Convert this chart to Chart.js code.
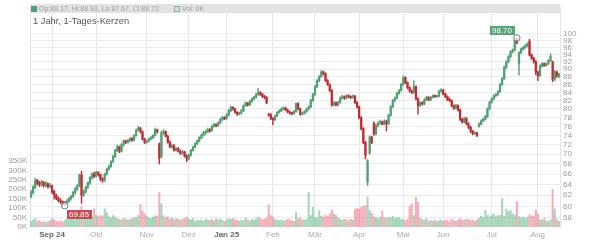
<!DOCTYPE html>
<html>
<head>
<meta charset="utf-8">
<script src="https://cdn.jsdelivr.net/npm/chart.js@4.4.1/dist/chart.umd.min.js"></script>
<style>
  html, body { margin: 0; padding: 0; background: #fff; }
</style>
</head>
<body>
<canvas id="c" width="600" height="240"></canvas>
<script>
// Tageskerzen, 1 Jahr
const opens = [
  61.8,62.5,63.4,64.8,64.3,63.9,64.4,63.8,64.1,63.6,
  63.8,62.7,62.0,61.5,61.0,60.9,60.5,60.7,60.9,61.4,
  61.8,62.5,63.1,63.8,65.8,62.1,62.6,63.5,64.3,65.2,
  66.0,65.6,66.3,65.9,65.0,64.8,66.0,67.0,67.5,68.5,
  69.5,70.8,71.5,70.6,72.0,72.8,72.5,72.9,73.3,73.0,
  74.0,75.2,75.6,74.8,73.2,72.5,72.8,73.2,73.5,74.0,
  75.2,72.0,69.5,74.6,74.8,73.8,72.5,71.5,71.8,70.8,
  71.2,70.6,70.2,70.5,69.6,69.0,69.8,70.8,71.5,72.2,
  72.8,73.5,74.0,74.6,74.8,75.3,75.0,76.0,76.4,76.2,
  76.8,77.5,78.0,77.8,78.6,79.6,80.4,80.0,79.2,78.8,
  79.0,79.6,80.8,81.4,81.0,81.8,82.4,82.8,83.5,84.0,
  83.6,83.0,82.8,78.8,78.6,77.8,77.5,78.4,79.2,79.6,
  80.0,80.2,79.8,79.3,79.0,78.9,79.4,81.3,80.0,78.8,
  79.0,79.4,80.0,80.5,82.0,83.5,85.5,87.0,88.0,89.3,
  88.8,87.0,86.0,84.5,81.0,81.5,81.0,81.6,82.6,83.0,
  82.6,83.2,83.0,82.8,83.1,81.6,80.5,78.0,75.5,72.5,
  64.5,70.2,73.6,76.7,74.3,76.2,76.8,77.0,76.5,77.2,
  76.6,78.5,80.5,82.0,82.6,83.8,84.5,86.0,87.8,86.5,
  85.2,84.4,84.0,85.5,82.5,80.8,81.5,81.2,82.2,82.8,
  82.2,82.8,83.2,83.0,83.1,84.3,84.6,83.6,83.0,82.2,
  82.0,80.8,80.2,80.8,79.8,77.6,77.0,77.8,76.6,75.8,
  74.9,74.4,74.5,76.0,76.5,77.2,77.6,78.2,80.0,81.6,
  82.4,83.2,83.5,84.2,86.0,87.5,90.5,92.0,93.4,94.8,
  95.2,98.0,91.5,94.5,95.5,96.0,96.4,97.8,93.9,92.9,
  92.0,89.2,88.3,90.8,91.5,91.0,91.4,92.3,92.0,87.4,
  89.2,88.17
];
const highs = [
  62.9,63.8,65.2,65.0,64.6,64.8,64.6,64.5,64.3,64.2,
  63.9,62.9,62.2,61.7,61.4,61.0,60.9,61.2,61.6,62.0,
  62.7,63.4,64.0,66.0,66.6,63.0,63.7,64.5,65.5,66.3,
  66.4,66.6,66.5,66.0,65.3,66.2,67.2,67.8,68.7,69.8,
  71.0,71.9,71.7,72.2,73.0,73.0,73.1,73.5,73.5,74.2,
  75.4,76.0,75.8,75.0,73.4,73.0,73.4,73.8,74.2,75.6,
  75.4,72.4,75.0,75.3,75.0,74.0,72.8,72.1,72.0,71.4,
  71.4,70.9,70.8,70.6,69.9,70.0,71.0,71.7,72.4,73.0,
  73.7,74.3,74.9,75.1,75.6,75.5,76.3,76.7,76.6,77.1,
  77.8,78.3,78.2,78.9,79.9,80.7,80.6,80.2,79.4,79.3,
  79.9,81.0,81.7,81.6,82.1,82.7,83.1,83.8,85.0,84.2,
  83.8,83.3,83.0,79.0,78.9,78.0,78.6,79.4,79.8,80.3,
  80.5,80.4,80.0,79.5,79.3,79.7,81.5,81.5,80.2,79.3,
  79.6,80.2,80.8,82.3,83.8,85.8,87.3,88.3,89.6,89.5,
  89.0,87.3,86.2,84.7,81.8,81.7,81.9,82.9,83.3,83.2,
  83.5,83.4,83.2,83.4,83.3,81.8,80.7,78.2,75.7,72.7,
  68.9,73.9,73.8,77.0,76.5,77.0,77.4,77.2,77.5,77.4,
  78.8,80.8,82.3,82.9,84.1,84.8,86.3,88.2,88.0,86.7,
  85.4,84.6,87.0,85.7,82.7,81.8,81.7,82.5,83.1,83.0,
  83.0,83.4,83.4,83.3,84.6,85.0,84.8,83.8,83.2,82.6,
  82.2,81.0,81.1,81.0,80.0,77.8,78.1,78.0,76.8,76.0,
  75.1,74.8,74.7,76.8,77.5,77.9,78.5,80.3,81.9,82.7,
  83.5,83.8,84.5,86.3,87.8,90.8,92.3,93.7,95.1,95.6,
  98.2,98.7,94.8,95.8,96.3,96.8,97.3,98.3,94.1,93.2,
  92.3,89.5,91.2,91.8,91.7,91.7,92.6,94.2,92.2,89.6,
  89.5,88.93
];
const lows = [
  61.5,62.2,63.2,63.9,63.6,63.7,63.5,63.6,63.3,63.4,
  62.3,61.3,61.2,60.8,60.5,60.2,60.1,60.4,60.7,61.1,
  61.6,62.2,62.9,63.6,60.5,61.8,62.4,63.2,64.0,65.0,
  65.3,65.4,65.6,64.7,64.4,64.6,65.8,66.7,67.3,68.3,
  69.3,70.5,70.3,70.4,71.7,72.2,72.3,72.6,72.7,72.8,
  73.8,75.0,74.5,73.0,72.2,72.3,72.6,73.0,73.3,73.8,
  74.5,68.0,69.3,74.2,73.6,72.3,71.3,71.2,70.6,70.6,
  70.4,69.9,70.0,69.4,68.4,68.8,69.6,70.6,71.3,72.0,
  72.6,73.3,73.8,74.2,74.6,74.7,74.9,75.8,75.9,76.0,
  76.6,77.3,77.5,77.6,78.4,79.4,79.7,79.0,78.5,78.6,
  78.8,79.4,80.6,80.7,80.8,81.6,82.2,82.6,83.3,83.3,
  82.8,82.5,81.2,78.3,77.5,76.3,77.3,78.2,79.0,79.4,
  79.8,79.6,79.1,78.8,78.6,78.7,79.2,79.8,78.5,78.6,
  78.8,79.2,79.8,80.3,81.8,83.3,85.2,86.7,87.8,88.5,
  86.8,85.8,84.2,80.6,80.8,80.7,80.8,81.4,82.4,82.3,
  82.4,82.7,82.5,82.6,81.3,80.2,77.7,75.2,72.2,69.0,
  63.8,70.0,72.2,74.0,74.1,75.9,76.5,76.3,76.3,75.0,
  76.4,78.3,80.3,81.8,82.4,83.6,84.3,85.8,86.2,84.9,
  84.1,83.7,83.8,82.2,78.8,80.6,80.9,81.0,82.0,82.0,
  82.0,82.6,82.8,82.8,82.9,84.1,83.4,82.7,82.0,81.8,
  80.5,79.9,80.0,79.5,77.3,76.7,76.8,76.3,75.5,74.6,
  74.1,74.2,73.7,75.8,76.3,77.0,77.4,78.0,79.8,81.4,
  82.2,82.9,83.3,84.0,85.8,87.3,90.2,91.7,93.1,94.4,
  95.0,97.0,88.4,94.2,95.2,95.7,96.1,93.6,92.6,91.6,
  88.5,87.0,88.1,90.5,90.7,90.8,91.2,92.0,86.7,87.0,
  87.8,87.67
];
const closes = [
  62.5,63.5,64.8,64.2,64.0,64.5,63.8,64.2,63.6,63.8,
  62.6,62.0,61.5,61.0,60.8,60.4,60.7,60.9,61.4,61.8,
  62.5,63.2,63.8,65.8,62.0,62.6,63.5,64.3,65.3,66.0,
  65.6,66.3,65.9,65.0,64.8,66.0,67.0,67.5,68.5,69.5,
  70.8,71.5,70.6,72.0,72.8,72.5,72.9,73.3,73.0,74.0,
  75.2,75.6,74.8,73.2,72.5,72.8,73.2,73.5,74.0,75.2,
  74.8,69.2,74.6,74.8,73.8,72.5,71.5,71.8,70.8,71.2,
  70.6,70.2,70.5,69.6,69.0,69.8,70.8,71.5,72.2,72.8,
  73.5,74.0,74.6,74.8,75.3,75.0,76.0,76.4,76.2,76.8,
  77.5,78.0,77.8,78.6,79.6,80.4,80.0,79.2,78.8,79.0,
  79.6,80.8,81.4,81.0,81.8,82.4,82.8,83.5,84.0,83.6,
  83.0,82.8,81.5,78.6,77.8,77.5,78.4,79.2,79.6,80.0,
  80.2,79.8,79.3,79.0,78.9,79.4,81.3,80.0,78.8,79.0,
  79.4,80.0,80.5,82.0,83.5,85.5,87.0,88.0,89.2,88.8,
  87.0,86.0,84.5,81.0,81.5,81.0,81.6,82.6,83.0,82.6,
  83.2,83.0,82.8,83.1,81.6,80.5,78.0,75.5,72.5,69.8,
  68.6,73.6,72.5,74.3,76.2,76.8,77.0,76.5,77.2,76.6,
  78.5,80.5,82.0,82.6,83.8,84.5,86.0,87.8,86.5,85.2,
  84.4,84.0,85.5,82.5,80.8,81.5,81.2,82.2,82.8,82.2,
  82.8,83.2,83.0,83.1,84.3,84.6,83.6,83.0,82.2,82.0,
  80.8,80.2,80.8,79.8,77.6,77.0,77.8,76.6,75.8,74.9,
  74.4,74.5,74.0,76.5,77.2,77.6,78.2,80.0,81.6,82.4,
  83.2,83.5,84.2,86.0,87.5,90.5,92.0,93.4,94.8,95.2,
  98.0,97.3,94.5,95.5,96.0,96.4,97.0,93.9,92.9,92.0,
  89.2,88.3,90.8,91.5,91.0,91.4,92.3,93.4,87.4,89.2,
  88.2,88.72
];
// Volumen in Tausend
const volumes = [
  30,36,44,30,34,26,30,24,28,34,
  44,38,30,28,32,26,34,40,38,52,
  40,38,45,52,107,50,55,46,60,58,
  96,62,55,60,58,96,78,55,48,60,
  52,45,40,38,46,42,36,40,44,48,
  50,60,118,85,70,56,48,45,52,60,
  58,184,123,60,48,55,42,50,38,44,
  40,36,42,45,52,40,38,44,30,36,
  34,38,30,42,36,34,40,32,45,38,
  42,36,30,38,44,40,46,35,38,30,
  36,34,48,38,32,40,36,44,52,46,
  38,42,48,118,60,52,40,36,34,38,
  32,36,40,38,34,30,76,45,48,38,
  36,40,184,60,104,50,48,87,58,52,
  62,55,68,90,70,62,48,40,35,42,
  38,34,40,36,92,98,95,105,110,115,
  160,88,72,55,48,44,52,85,50,46,
  52,48,55,44,50,48,40,38,34,42,
  110,123,60,157,130,48,40,36,44,30,
  34,30,36,28,32,38,30,36,34,28,
  40,34,30,36,44,38,36,42,40,34,
  36,30,38,46,56,50,90,62,54,60,
  68,55,60,62,150,58,95,82,88,70,
  62,135,55,48,52,46,50,64,58,56,
  90,70,40,36,44,32,30,38,200,96,
  40,30
];

const monthIdx = [10, 31, 55, 75, 93, 115, 135, 156, 177, 196, 219, 241];
const monthLabels = ['Sep 24', 'Okt', 'Nov', 'Dez', 'Jan 25', 'Feb', 'Mär', 'Apr', 'Mai', 'Jun', 'Jul', 'Aug'];
const yearLabels = ['Sep 24', 'Jan 25'];
const priceTicks = [58,60,62,64,66,68,70,72,74,76,78,80,82,84,86,88,90,92,94,96,98,100];
const volTicks = [0, 50, 100, 150, 200, 250, 300, 350];

const TITLE = '1 Jahr, 1-Tages-Kerzen';
const VOL_TEXT = 'Vol: 0K';
const LOW_TEXT = '69.85';
const HIGH_TEXT = '98.70';

const UP = '#529f75';
const DOWN = '#c02a31';
const UP_VOL = 'rgba(110,185,140,0.6)';
const DOWN_VOL = 'rgba(235,120,140,0.6)';
const FONT = '"Liberation Sans", Arial, sans-serif';

const N = closes.length;
const labels = closes.map((_, i) => i);
const isUp = (i) => closes[i] >= opens[i];
const last = N - 1;
const headerText = `Op:${opens[last].toFixed(2)}, Hi:${highs[last].toFixed(2)}, Lo:${lows[last].toFixed(2)}, Cl:${closes[last].toFixed(2)}`;

function labelBox(ctx, text, x, y, fill) {
  ctx.font = `8px ${FONT}`;
  const w = Math.ceil(ctx.measureText(text).width) + 4;
  ctx.fillStyle = fill;
  ctx.fillRect(x, y, w, 9);
  ctx.fillStyle = '#fff';
  ctx.textBaseline = 'middle';
  ctx.fillText(text, x + 2, y + 5);
  return w;
}

function marker(ctx, x, y) {
  ctx.beginPath();
  ctx.arc(x, y, 3.2, 0, Math.PI * 2);
  ctx.fillStyle = 'rgba(255,255,255,0.6)';
  ctx.fill();
  ctx.lineWidth = 1;
  ctx.strokeStyle = '#777';
  ctx.stroke();
}

const overlay = {
  id: 'overlay',
  beforeDraw(chart) {
    const { ctx, chartArea: a } = chart;
    ctx.save();
    ctx.fillStyle = '#e3e3e3';
    ctx.fillRect(a.left, 4, a.right - a.left, 9);
    ctx.restore();
  },
  afterDraw(chart) {
    const { ctx, scales } = chart;
    ctx.save();
    // Kopfzeile
    ctx.fillStyle = UP;
    ctx.fillRect(31, 6, 6, 6);
    ctx.font = `7px ${FONT}`;
    ctx.textBaseline = 'middle';
    ctx.fillStyle = '#a0a0a0';
    ctx.fillText(headerText, 39, 9);
    ctx.fillStyle = '#cfe3d6';
    ctx.fillRect(174, 6, 6, 6);
    ctx.strokeStyle = '#8bb39b';
    ctx.strokeRect(174.5, 6.5, 5, 5);
    ctx.fillStyle = '#a0a0a0';
    ctx.fillText(VOL_TEXT, 182, 9);
    // Titel
    ctx.font = `9.3px ${FONT}`;
    ctx.fillStyle = '#555';
    ctx.textBaseline = 'alphabetic';
    ctx.fillText(TITLE, 33, 24);

    // Hoch / Tief markieren
    let hi = 0, lo = 0;
    highs.forEach((v, i) => { if (v > highs[hi]) hi = i; });
    lows.forEach((v, i) => { if (v < lows[lo]) lo = i; });
    const hx = scales.x.getPixelForValue(hi), hy = scales.y.getPixelForValue(highs[hi]);
    const lx = scales.x.getPixelForValue(lo), ly = scales.y.getPixelForValue(lows[lo]);
    marker(ctx, hx, hy);
    marker(ctx, lx, ly);
    ctx.font = `8px ${FONT}`;
    const hw = Math.ceil(ctx.measureText(HIGH_TEXT).width) + 4;
    labelBox(ctx, HIGH_TEXT, Math.round(hx - 2 - hw), Math.round(hy - 12), '#55a47a');
    labelBox(ctx, LOW_TEXT, Math.round(lx + 2), Math.round(ly + 4), '#cc4a55');
    ctx.restore();
  }
};

new Chart(document.getElementById('c'), {
  type: 'bar',
  data: {
    labels,
    datasets: [
      {
        label: 'Körper',
        data: opens.map((o, i) => [o, closes[i]]),
        yAxisID: 'y',
        grouped: false,
        order: 1,
        barThickness: 1.6,
        minBarLength: 1,
        backgroundColor: (c) => (isUp(c.dataIndex) ? UP : DOWN),
        borderWidth: 0
      },
      {
        label: 'Docht',
        data: lows.map((l, i) => [l, highs[i]]),
        yAxisID: 'y',
        grouped: false,
        order: 2,
        barThickness: 0.8,
        backgroundColor: (c) => (isUp(c.dataIndex) ? UP : DOWN),
        borderWidth: 0
      },
      {
        label: 'Volumen',
        data: volumes,
        yAxisID: 'yv',
        grouped: false,
        order: 3,
        barThickness: 1.4,
        backgroundColor: (c) => (isUp(c.dataIndex) ? UP_VOL : DOWN_VOL),
        borderWidth: 0
      }
    ]
  },
  plugins: [overlay],
  options: {
    responsive: false,
    animation: false,
    layout: { padding: { top: 5, left: 0, right: 0, bottom: 0 } },
    plugins: {
      legend: { display: false },
      tooltip: { enabled: false }
    },
    scales: {
      x: {
        type: 'category',
        offset: true,
        afterFit: (s) => { s.height = 13; },
        border: { display: false },
        grid: {
          offset: false,
          drawTicks: false,
          color: (c) => (monthIdx.includes(c.index) ? '#e6e6e6' : 'rgba(0,0,0,0)')
        },
        ticks: {
          autoSkip: false,
          maxRotation: 0,
          minRotation: 0,
          padding: 3,
          callback: (v, i) => {
            const k = monthIdx.indexOf(i);
            return k >= 0 ? monthLabels[k] : '';
          },
          color: (c) => {
            const k = monthIdx.indexOf(c.index);
            return k >= 0 && yearLabels.includes(monthLabels[k]) ? '#666' : '#aaa';
          },
          font: (c) => {
            const k = monthIdx.indexOf(c.index);
            const bold = k >= 0 && yearLabels.includes(monthLabels[k]);
            return { family: FONT, size: 8, weight: bold ? 'bold' : 'normal' };
          }
        }
      },
      y: {
        type: 'logarithmic',
        position: 'right',
        min: 56.44,
        max: 107.9,
        afterFit: (s) => { s.width = 40; },
        afterBuildTicks: (s) => { s.ticks = priceTicks.map((v) => ({ value: v })); },
        border: { display: true, color: '#e3e3e3' },
        grid: { color: '#ececec', drawTicks: false },
        ticks: {
          autoSkip: false,
          padding: 3,
          color: '#9a9a9a',
          font: { family: FONT, size: 8 },
          callback: (v) => String(v)
        }
      },
      yv: {
        type: 'linear',
        position: 'left',
        min: 0,
        max: 1160,
        afterFit: (s) => { s.width = 30; },
        afterBuildTicks: (s) => { s.ticks = volTicks.map((v) => ({ value: v })); },
        border: { display: true, color: '#e3e3e3' },
        grid: { display: false, drawTicks: false },
        ticks: {
          autoSkip: false,
          padding: 3,
          color: '#9a9a9a',
          font: { family: FONT, size: 8 },
          callback: (v) => `${v}K`
        }
      }
    }
  }
});
</script>
</body>
</html>
